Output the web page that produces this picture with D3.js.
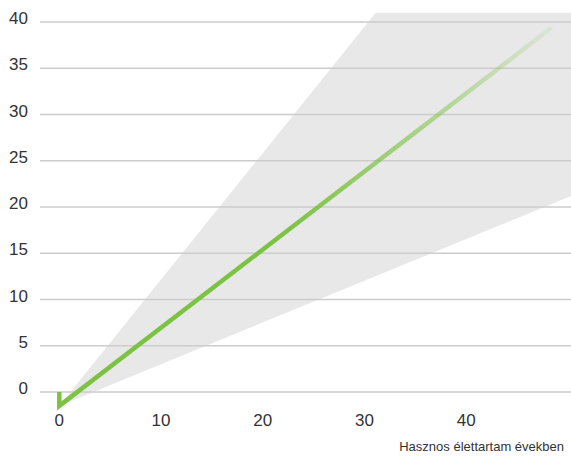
<!DOCTYPE html>
<html><head><meta charset="utf-8">
<script src="https://cdn.jsdelivr.net/npm/d3@7"></script>
<style>html,body{margin:0;padding:0;background:#fff}svg{display:block}</style>
</head><body>
<svg id="c" width="571" height="456"></svg>
<script>
const yTicks = [0, 5, 10, 15, 20, 25, 30, 35, 40];
const xTicks = [0, 10, 20, 30, 40];
const xTitle = "Hasznos élettartam években";
// green value line
const lineX = [0, 0, 48.4];
const lineY = [0, -1.5, 39.4];
// grey uncertainty cone
const coneX = [0, 31.1, 51, 51];
const coneY = [-1.5, 41, 41, 21.5];

const svg = d3.select("#c");
const x = d3.scaleLinear().domain([0, 50]).range([59.3, 568]);
const y = d3.scaleLinear().domain([0, 40]).range([392, 22]);
const font = "'Liberation Sans', Arial, Helvetica, sans-serif";

// cone
svg.append("path")
  .datum(coneX.map((d, i) => [d, coneY[i]]))
  .attr("d", d3.line().x(d => x(d[0])).y(d => y(d[1])))
  .attr("fill", "#e8e8e8");

// gridlines
svg.append("g").selectAll("line").data(yTicks).join("line")
  .attr("x1", 40).attr("x2", 571)
  .attr("y1", d => y(d)).attr("y2", d => y(d))
  .attr("stroke", "#cccccc").attr("stroke-width", 1.3);

// y labels
svg.append("g").selectAll("text").data(yTicks).join("text")
  .attr("x", 28).attr("y", d => y(d) + 2)
  .attr("text-anchor", "end")
  .attr("font-family", font).attr("font-size", 17).attr("fill", "#333")
  .text(d => d);

// x labels
svg.append("g").selectAll("text").data(xTicks).join("text")
  .attr("x", d => x(d)).attr("y", 426)
  .attr("text-anchor", "middle")
  .attr("font-family", font).attr("font-size", 17).attr("fill", "#333")
  .text(d => d);

svg.append("text").attr("x", 564).attr("y", 451)
  .attr("text-anchor", "end")
  .attr("font-family", font).attr("font-size", 13).attr("fill", "#333")
  .text(xTitle);

// gradient for fading line
const defs = svg.append("defs");
const g = defs.append("linearGradient").attr("id", "fade")
  .attr("gradientUnits", "userSpaceOnUse")
  .attr("x1", x(0)).attr("x2", x(48.4)).attr("y1", 0).attr("y2", 0);
g.append("stop").attr("offset", 0).attr("stop-color", "#7cc243").attr("stop-opacity", 1);
g.append("stop").attr("offset", 0.45).attr("stop-color", "#7cc243").attr("stop-opacity", 1);
g.append("stop").attr("offset", 0.78).attr("stop-color", "#7cc243").attr("stop-opacity", 0.5);
g.append("stop").attr("offset", 1).attr("stop-color", "#7cc243").attr("stop-opacity", 0.1);

svg.append("path")
  .datum(lineX.map((d, i) => [d, lineY[i]]))
  .attr("d", d3.line().x(d => x(d[0])).y(d => y(d[1])))
  .attr("fill", "none")
  .attr("stroke", "url(#fade)")
  .attr("stroke-width", 4.5)
  .attr("stroke-linejoin", "miter");
</script>
</body></html>
